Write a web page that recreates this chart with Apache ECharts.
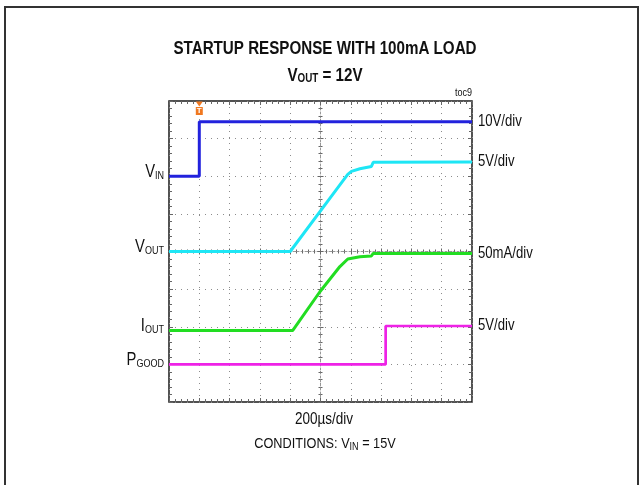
<!DOCTYPE html>
<html><head><meta charset="utf-8">
<script src="https://cdn.jsdelivr.net/npm/echarts@6/dist/echarts.min.js"></script>
<style>html,body{margin:0;padding:0;background:#fff}#c{width:641px;height:485px}</style>
</head><body><div id="c"></div>
<script>
// ---- data (in scope divisions: x 0..10, y 0..8 from bottom) ----
const vinX   = [0, 1.0, 1.0, 10];
const vinY   = [6.0, 6.0, 7.45, 7.45];
const voutX  = [0, 4.0, 5.64, 5.9, 6.02, 6.3, 6.68, 6.74, 10];
const voutY  = [4.0, 4.0, 5.77, 6.05, 6.13, 6.2, 6.26, 6.37, 6.38];
const ioutX  = [0, 4.08, 4.98, 5.64, 5.9, 6.3, 6.68, 6.74, 10];
const ioutY  = [1.9, 1.9, 2.93, 3.6, 3.8, 3.86, 3.88, 3.95, 3.95];
const pgoodX = [0, 7.15, 7.15, 10];
const pgoodY = [1.0, 1.0, 2.02, 2.02];
const chMain = ['V', 'V', 'I', 'P'];
const chSub  = ['IN', 'OUT', 'OUT', 'GOOD'];
const scaleLabels = ['10V/div', '5V/div', '50mA/div', '5V/div'];
const chColors = ['#2222dd', '#1ee6f5', '#22dd22', '#ee22e6'];
const triggerX = 1.0;
const xDivs = 10, yDivs = 8;

const FONT = '"Liberation Sans", Arial, sans-serif';
const NARROW = 0.82;
const chart = echarts.init(document.getElementById('c'), null, {renderer: 'canvas'});

function pts(xs, ys) { return xs.map((x, i) => [x, ys[i]]); }
const gridDots = {show: true, lineStyle: {color: '#8c8c8c', type: [1, 5], width: 1}};
const tickStyle = {color: '#666', width: 1};

function baseAxis(extra) {
  return Object.assign({
    type: 'value', axisLabel: {show: false},
    axisLine: {show: false, onZero: false},
    axisTick: {show: true, inside: true, length: 4, lineStyle: tickStyle},
    minorTick: {show: true, splitNumber: 5, length: 3, lineStyle: tickStyle},
    splitLine: {show: false}, minorSplitLine: {show: false}
  }, extra);
}
const xa = (extra) => baseAxis(Object.assign({min: 0, max: xDivs, interval: 1}, extra));
const ya = (extra) => baseAxis(Object.assign({min: 0, max: yDivs, interval: 1}, extra));
const centerLine = {show: true, onZero: false, lineStyle: {color: '#999', type: [2, 2], width: 1}};
const cTick = (inside) => ({show: true, inside: inside, length: 3, lineStyle: tickStyle});
const cMinor = {show: true, splitNumber: 5, length: 2, lineStyle: tickStyle};

function mkSeries(i, xs, ys) {
  const s = {
    type: 'line', data: pts(xs, ys), symbol: 'none', silent: true, animation: false,
    xAxisIndex: 0, yAxisIndex: 0, z: 5,
    lineStyle: {color: chColors[i], width: i === 3 ? 2.7 : 3}
  };
  if (i === 0) {
    s.markPoint = {
      animation: false, silent: true,
      data: [
        {coord: [triggerX, yDivs], symbol: 'triangle', symbolRotate: 180, symbolSize: [7, 5],
         symbolOffset: [0, 3], itemStyle: {color: '#f07820'}, label: {show: false}},
        {coord: [triggerX, yDivs], symbol: 'rect', symbolSize: [7, 8], symbolOffset: [0, 10],
         itemStyle: {color: '#f07820'},
         label: {show: true, position: 'inside', formatter: 'T', color: '#fff', fontSize: 8,
           fontWeight: 'bold', fontFamily: FONT}}
      ]
    };
  }
  return s;
}

function txt(x, y, text, size, align, bold) {
  return {type: 'text', x: x, y: y, scaleX: NARROW, silent: true,
    style: {text: text, align: align, verticalAlign: 'middle',
      font: (bold ? 'bold ' : '') + size + 'px ' + FONT, fill: '#111'}};
}
function richTxt(x, y, text, align, mSize, sSize, mLh, sLh, bold) {
  const w = bold ? 'bold' : 'normal';
  return {type: 'text', x: x, y: y, scaleX: NARROW, silent: true,
    style: {text: text, align: align, verticalAlign: 'middle',
      rich: {m: {fontSize: mSize, fontWeight: w, fontFamily: FONT, fill: '#111', lineHeight: mLh, verticalAlign: 'bottom'},
             s: {fontSize: sSize, fontWeight: w, fontFamily: FONT, fill: '#111', lineHeight: sLh, verticalAlign: 'bottom'}}}};
}

const baseGraphic = [
  {type: 'rect', shape: {x: 5, y: 7, width: 633, height: 500}, style: {fill: 'none', stroke: '#333', lineWidth: 2}, silent: true},
  txt(325, 49, 'STARTUP RESPONSE WITH 100mA LOAD', 18.5, 'center', true),
  richTxt(325, 75, '{m|V}{s|OUT}{m| = 12V}', 'center', 18.5, 12, 20, 8, true),
  txt(472, 93, 'toc9', 11, 'right', false),
  txt(324, 419, '200µs/div', 16.5, 'center', false),
  richTxt(325, 443, '{m|CONDITIONS: V}{s|IN}{m| = 15V}', 'center', 15.5, 11, 18, 10, false)
];

const option = {
  backgroundColor: '#fff',
  animation: false,
  grid: {left: 169, top: 101, width: 303, height: 301, show: true,
    borderColor: '#1a1a1a', borderWidth: 1.5, backgroundColor: 'transparent', containLabel: false},
  xAxis: [
    xa({position: 'bottom', splitLine: gridDots}),
    xa({position: 'top'}),
    xa({position: 'bottom', offset: -150.5, axisLine: centerLine, axisTick: cTick(true), minorTick: cMinor}),
    xa({position: 'bottom', offset: -150.5, axisTick: cTick(false), minorTick: cMinor})
  ],
  yAxis: [
    ya({position: 'left', splitLine: gridDots}),
    ya({position: 'right'}),
    ya({position: 'left', offset: -151.5, axisLine: centerLine, axisTick: cTick(true), minorTick: cMinor}),
    ya({position: 'left', offset: -151.5, axisTick: cTick(false), minorTick: cMinor})
  ],
  series: [
    mkSeries(0, vinX, vinY),
    mkSeries(1, voutX, voutY),
    mkSeries(2, ioutX, ioutY),
    mkSeries(3, pgoodX, pgoodY)
  ],
  graphic: baseGraphic
};
chart.setOption(option);

// channel labels placed from the data through the axes
const chans = [[vinX, vinY], [voutX, voutY], [ioutX, ioutY], [pgoodX, pgoodY]];
const extra = [];
chans.forEach(function (c, i) {
  const xs = c[0], ys = c[1];
  const L = chart.convertToPixel({xAxisIndex: 0, yAxisIndex: 0}, [xs[0], ys[0]]);
  const R = chart.convertToPixel({xAxisIndex: 0, yAxisIndex: 0}, [xs[xs.length - 1], ys[ys.length - 1]]);
  extra.push(richTxt(L[0] - 5, L[1] - 5, '{m|' + chMain[i] + '}{s|' + chSub[i] + '}', 'right', 18, 11, 20, 12, false));
  extra.push(txt(R[0] + 6, R[1], scaleLabels[i], 16, 'left', false));
});
chart.setOption({graphic: baseGraphic.concat(extra)});
</script>
</body></html>
